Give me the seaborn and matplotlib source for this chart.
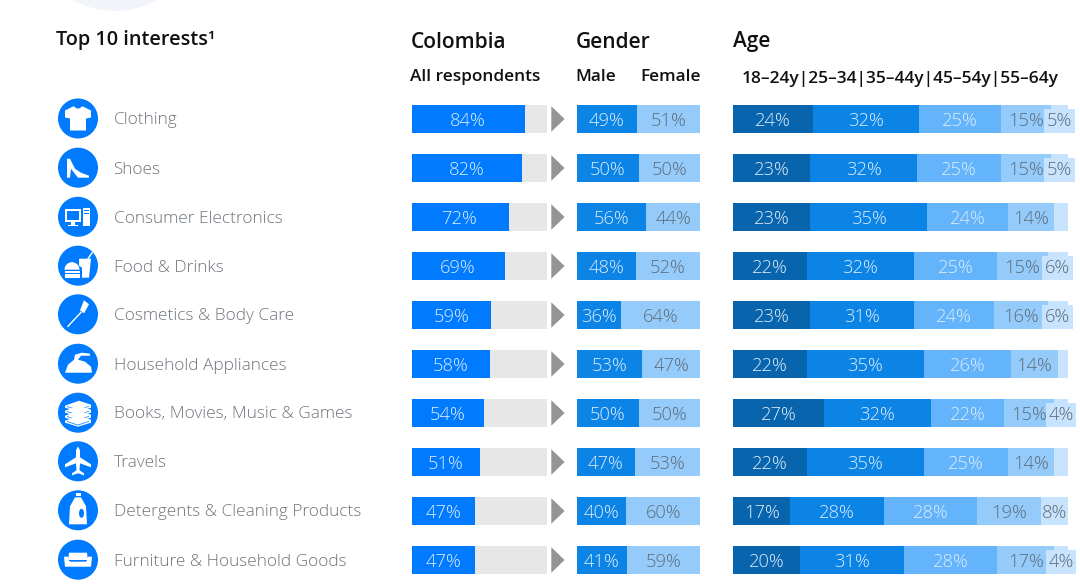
import numpy as np
import pandas as pd
import matplotlib
matplotlib.use("Agg")
import matplotlib.pyplot as plt
from matplotlib.patches import Circle, Polygon, Rectangle, Ellipse, Wedge
import seaborn as sns

categories = ["Clothing", "Shoes", "Consumer Electronics", "Food & Drinks", "Cosmetics & Body Care",
              "Household Appliances", "Books, Movies, Music & Games", "Travels",
              "Detergents & Cleaning Products", "Furniture & Household Goods"]
all_respondents = [84, 82, 72, 69, 59, 58, 54, 51, 47, 47]
male = [49, 50, 56, 48, 36, 53, 50, 47, 40, 41]
female = [51, 50, 44, 52, 64, 47, 50, 53, 60, 59]
age_18_24 = [24, 23, 23, 22, 23, 22, 27, 22, 17, 20]
age_25_34 = [32, 32, 35, 32, 31, 35, 32, 35, 28, 31]
age_35_44 = [25, 25, 24, 25, 24, 26, 22, 25, 28, 28]
age_45_54 = [15, 15, 14, 15, 16, 14, 15, 14, 19, 17]
age_55_64 = [5, 5, 4, 6, 6, 3, 4, 4, 8, 4]
age_55_64_labelled = [True, True, False, True, True, False, True, False, True, True]
age_labels = ["18–24y", "25–34", "35–44y", "45–54y", "55–64y"]

W, H = 1080, 587
BLUE = "#007bff"
GREY_BAR = "#e7e7e7"
AGE_COLORS = ["#0864ad", "#0c84e6", "#63b4fa", "#94cbfb", "#c8e3fd"]
LIGHT_TXT = "#dcecfc"
DARK_TXT = "#5f6c78"
TOP, BOTTOM = 94.5, 584.5
VAL_FS = 13.2
VAL_DY = 0.045

sns.set_theme(style="white")
plt.rcParams["font.family"] = ["Open Sans", "DejaVu Sans"]

fig = plt.figure(figsize=(W / 100, H / 100), dpi=100, facecolor="white")


def bar_axes(x0, x1):
    ax = fig.add_axes([x0 / W, 1 - BOTTOM / H, (x1 - x0) / W, (BOTTOM - TOP) / H])
    ax.axis("off")
    return ax


def stacked(ax, series, colors, txt_colors, show=None):
    # every row is scaled to its own total, the shares do not always add to 100
    data = np.array(series, dtype=float)
    scaled = data / data.sum(axis=0) * 100
    left = np.zeros(len(categories))
    for s, (vals, col) in enumerate(zip(scaled, colors)):
        sns.barplot(x=vals, y=categories, left=left, color=col, saturation=1,
                    width=0.555, orient="h", errorbar=None, linewidth=0, ax=ax)
        for i, v in enumerate(vals):
            if s == 4 and not show[i]:
                continue
            box = None
            if s == 4 and data[s][i] < 8:
                box = dict(facecolor=col, edgecolor="none", pad=2.0)
            ax.text(left[i] + v / 2, i + VAL_DY, f"{data[s][i]:.0f}%", ha="center", va="center",
                    fontsize=VAL_FS, fontweight="light", color=txt_colors[s], bbox=box, zorder=5)
        left += vals
    ax.set_xlim(0, 100)
    ax.set_ylim(9.5, -0.5)
    ax.axis("off")


# Colombia
ax1 = bar_axes(411.5, 546.5)
sns.barplot(x=[100] * 10, y=categories, color=GREY_BAR, saturation=1, width=0.555, orient="h", linewidth=0, ax=ax1)
sns.barplot(x=all_respondents, y=categories, color=BLUE, saturation=1, width=0.555, orient="h", linewidth=0, ax=ax1)
for i, v in enumerate(all_respondents):
    ax1.text(v / 2, i + VAL_DY, f"{v}%", ha="center", va="center", fontsize=VAL_FS, fontweight="light", color=LIGHT_TXT)
ax1.set_xlim(0, 100)
ax1.set_ylim(9.5, -0.5)
ax1.axis("off")

# Arrows
ax_arrow = bar_axes(551.3, 564.6)
for i in range(len(categories)):
    ax_arrow.fill([0, 1, 0], [i - 0.26, i, i + 0.26], color="#959595", lw=0)
ax_arrow.set_xlim(0, 1)
ax_arrow.set_ylim(9.5, -0.5)

# Gender
ax2 = bar_axes(576.7, 700.3)
stacked(ax2, [male, female], [AGE_COLORS[1], AGE_COLORS[3]], [LIGHT_TXT, DARK_TXT])

# Age
ax3 = bar_axes(733.3, 1067.7)
stacked(ax3, [age_18_24, age_25_34, age_35_44, age_45_54, age_55_64], AGE_COLORS,
        [LIGHT_TXT, LIGHT_TXT, LIGHT_TXT, DARK_TXT, DARK_TXT], age_55_64_labelled)

# Overlay in pixels for headings and icons
ov = fig.add_axes([0, 0, 1, 1], zorder=-1)
ov.set_xlim(0, W)
ov.set_ylim(H, 0)
ov.axis("off")
ov.add_patch(Circle((115, -74.7), 85.7, color="#f1f4f9", lw=0))

for txt, x, y, fs in [("Top 10 interests¹", 56.5, 40.5, 14.3), ("Colombia", 410.5, 43, 15),
                      ("Gender", 575.5, 42, 15), ("Age", 733, 42, 15),
                      ("All respondents", 410.5, 77, 12.4), ("Male", 575.5, 77, 12.4), ("Female", 640.5, 77, 12.4)]:
    ov.text(x, y, txt, fontsize=fs, fontweight="semibold", color="#111111", va="center", ha="left")
ov.text(742, 79, "|".join(age_labels), fontsize=12.5, fontweight="semibold", color="#111111", va="center", ha="left")

ICON_Y = [118.5, 167.7, 216.8, 265.7, 314.3, 363.7, 412.7, 461.3, 510.3, 559.7]
ICON_X = 78


def poly(cy, pts, col="white"):
    ov.add_patch(Polygon([(ICON_X + a, cy + b) for a, b in pts], closed=True, color=col, lw=0))


def rect(cy, x, y, w, h, col="white"):
    ov.add_patch(Rectangle((ICON_X + x, cy + y), w, h, color=col, lw=0))


def ell(cy, x, y, w, h, col="white"):
    ov.add_patch(Ellipse((ICON_X + x, cy + y), w, h, color=col, lw=0))


def draw_icon(i, cy):
    ov.add_patch(Circle((ICON_X, cy), 20, color=BLUE, lw=0))
    if i == 0:  # shirt
        poly(cy, [(-5, -12), (5, -12), (13, -8), (13, -1), (8, 0), (8, 12), (-8, 12), (-8, 0), (-13, -1), (-13, -8)])
        ell(cy, 0, -12.5, 7, 5, BLUE)
    elif i == 1:  # heel
        poly(cy, [(-11, -9), (-8, -9), (-3, 1), (3, 5), (11, 8), (11, 10), (0, 10), (-4, 5), (-7, 1), (-8, 10), (-11, 10)])
    elif i == 2:  # computer
        rect(cy, -13, -8, 16, 13)
        rect(cy, -11, -6, 12, 9, BLUE)
        rect(cy, -7, 5, 4, 3)
        rect(cy, -10, 8, 10, 1.5)
        rect(cy, 5, -9, 7, 18)
        rect(cy, 6, -6.5, 5, 1, BLUE)
        rect(cy, 6, -3.5, 5, 1, BLUE)
    elif i == 3:  # burger and cup
        poly(cy, [(1, -7), (13, -7), (11, 12), (4, 12), (4, 2), (1, 0)])
        poly(cy, [(9, -7), (14, -14), (15, -13), (11, -7)])
        ov.add_patch(Wedge((ICON_X - 6, cy + 4), 7.5, 180, 360, color="white", lw=0))
        rect(cy, -13.5, 5, 15, 2)
        rect(cy, -13.5, 8, 15, 4)
    elif i == 4:  # toothbrush
        poly(cy, [(-10, 13), (-11, 12), (3, -3), (4, -2)])
        poly(cy, [(2, -4), (6, -14), (11, -10), (6, -1)])
    elif i == 5:  # iron
        poly(cy, [(-13, 9), (-10, 1), (-4, -4), (-3, -9), (4, -11), (12, -10), (12, -8), (3, -8), (0, -4), (7, -2), (13, 3), (14, 9)])
    elif i == 6:  # books
        for dy in [-7, -2, 3, 8]:
            poly(cy, [(-13, dy), (1, dy - 5), (13, dy - 1), (13, dy + 2), (0, dy + 6), (-13, dy + 2)])
            poly(cy, [(-11, dy + 0.4), (0, dy + 4), (11, dy + 0.2), (11, dy + 0.9), (0, dy + 4.8), (-11, dy + 1.1)], BLUE)
    elif i == 7:  # plane
        poly(cy, [(0, -15), (2, -11), (2, -4), (13, 3), (13, 6), (2, 2), (1.5, 9), (6, 12), (6, 14), (0, 12),
                  (-6, 14), (-6, 12), (-1.5, 9), (-2, 2), (-13, 6), (-13, 3), (-2, -4), (-2, -11)])
    elif i == 8:  # bottle
        rect(cy, -2.5, -17, 5, 3)
        poly(cy, [(-3, -13), (3, -13), (8, -4), (9, 14), (-9, 14), (-8, -4)])
        ell(cy, 3.5, 3, 5, 9, BLUE)
    else:  # sofa
        poly(cy, [(-9, -7), (9, -7), (10, 1), (-10, 1)])
        poly(cy, [(-14, -3), (-10, -3), (-8, 2), (8, 2), (10, -3), (14, -3), (13, 7), (-13, 7)])
        rect(cy, -9, 0.6, 18, 0.9, BLUE)


for i, name in enumerate(categories):
    draw_icon(i, ICON_Y[i])
    ov.text(113.5, ICON_Y[i] + 1.8, name, fontsize=12.45, color="#6f757c", fontweight="light", va="center", ha="left")

fig.savefig("out.png", dpi=100)
